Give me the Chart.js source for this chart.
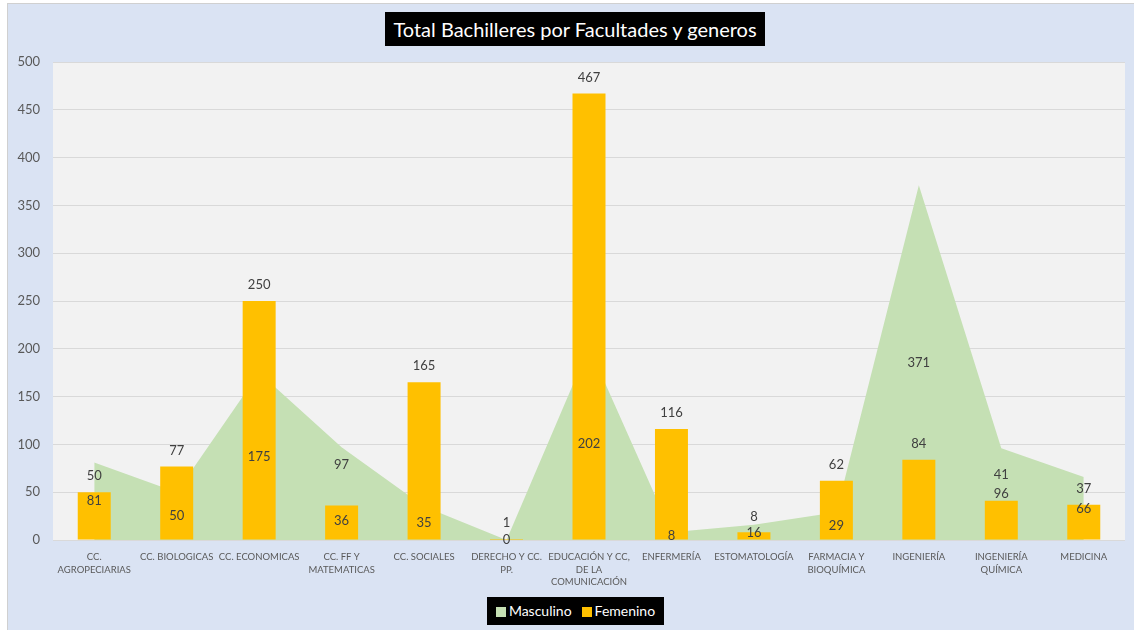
<!DOCTYPE html>
<html lang="es">
<head>
    <meta charset="UTF-8">
    <title>Total Bachilleres por Facultades y generos</title>
    <script src="https://cdn.jsdelivr.net/npm/chart.js"></script>
    <style>
        body {
            margin: 0;
            background: #ffffff;
            font-family: Lato, "Open Sans", sans-serif;
        }
        #frame {
            position: absolute;
            left: 7px;
            top: 3px;
            width: 1127px;
            height: 627px;
            background: #dae3f3;
            border-top: 1px solid #d0d0d0;
            border-left: 1px solid #d0d0d0;
            box-sizing: border-box;
        }
        #wrap {
            position: absolute;
            left: 0;
            top: 0;
            width: 1134px;
            height: 630px;
        }
        .titulo {
            position: absolute;
            left: 385px;
            top: 12px;
            width: 380px;
            height: 34px;
            background: #000;
            color: #fff;
            font-size: 20px;
            line-height: 34px;
            text-align: center;
        }
        .leyenda {
            position: absolute;
            left: 487px;
            top: 597px;
            width: 177px;
            height: 28px;
            background: #000;
            color: #fff;
            font-size: 14px;
            line-height: 28px;
            text-align: center;
        }
        .leyenda span.box {
            display: inline-block;
            width: 10px;
            height: 10px;
            margin-right: 3px;
            vertical-align: -1px;
        }
        .leyenda span.item {
            margin: 0 5px;
        }
    </style>
</head>
<body>
    <div id="frame"></div>
    <div id="wrap">
        <canvas id="chart" width="1134" height="630"></canvas>
    </div>
    <div class="titulo">Total Bachilleres por Facultades y generos</div>
    <div class="leyenda">
        <span class="item"><span class="box" style="background:#c5e0b4"></span>Masculino</span><span class="item"><span class="box" style="background:#ffc000"></span>Femenino</span>
    </div>

    <script>
        const categorias = [
            ['CC.', 'AGROPECIARIAS'], 'CC. BIOLOGICAS', 'CC. ECONOMICAS', ['CC. FF Y', 'MATEMATICAS'],
            'CC. SOCIALES', ['DERECHO Y CC.', 'PP.'], ['EDUCACIÓN Y CC,', 'DE LA', 'COMUNICACIÓN'],
            'ENFERMERÍA', 'ESTOMATOLOGÍA', ['FARMACIA Y', 'BIOQUÍMICA'], 'INGENIERÍA',
            ['INGENIERÍA', 'QUÍMICA'], 'MEDICINA'
        ];
        const masculino = [81, 50, 175, 97, 35, 0, 202, 8, 16, 29, 371, 96, 66];
        const femenino = [50, 77, 250, 36, 165, 1, 467, 116, 8, 62, 84, 41, 37];

        // fondo del area de trazado
        const fondoPlot = {
            id: 'fondoPlot',
            beforeDraw(chart) {
                const a = chart.chartArea;
                const ctx = chart.ctx;
                ctx.save();
                ctx.fillStyle = '#f2f2f2';
                ctx.fillRect(a.left, a.top, a.right - a.left, a.bottom - a.top);
                ctx.restore();
            }
        };

        // etiquetas de datos (con pequeños desplazamientos donde se solapan, como en Excel)
        const desplazar = { 3: { m: -29, f: 31 }, 11: { m: 0, f: -10 } };
        const etiquetas = {
            id: 'etiquetas',
            afterDatasetsDraw(chart) {
                const ctx = chart.ctx;
                const y = chart.scales.y;
                ctx.save();
                ctx.fillStyle = '#404040';
                ctx.font = '13px Lato, "Open Sans", sans-serif';
                ctx.textAlign = 'center';
                ctx.textBaseline = 'middle';
                chart.getDatasetMeta(0).data.forEach((p, i) => {
                    const d = desplazar[i] ? desplazar[i].m : 0;
                    ctx.fillText(masculino[i], p.x, y.getPixelForValue(masculino[i] / 2) + d);
                });
                chart.getDatasetMeta(1).data.forEach((b, i) => {
                    const d = desplazar[i] ? desplazar[i].f : 0;
                    ctx.fillText(femenino[i], b.x, b.y - 16 + d);
                });
                ctx.restore();
            }
        };

        new Chart(document.getElementById('chart'), {
            type: 'bar',
            data: {
                labels: categorias,
                datasets: [
                    {
                        type: 'line',
                        label: 'Masculino',
                        data: masculino,
                        fill: 'origin',
                        backgroundColor: '#c5e0b4',
                        borderWidth: 0,
                        pointRadius: 0,
                        tension: 0,
                        order: 2
                    },
                    {
                        label: 'Femenino',
                        data: femenino,
                        backgroundColor: '#ffc000',
                        categoryPercentage: 1,
                        barPercentage: 0.4,
                        order: 1
                    }
                ]
            },
            options: {
                responsive: false,
                animation: false,
                layout: { padding: { top: 62, right: 9, bottom: 40, left: 0 } },
                plugins: {
                    legend: { display: false },
                    title: { display: false },
                    tooltip: { enabled: false }
                },
                scales: {
                    x: {
                        grid: { display: false },
                        border: { display: false },
                        ticks: {
                            color: '#595959',
                            font: { size: 9.5, family: 'Lato, "Open Sans", sans-serif', lineHeight: 1.3 },
                            maxRotation: 0,
                            autoSkip: false,
                            padding: 3
                        },
                        afterFit(scale) { scale.height = 50; }
                    },
                    y: {
                        min: 0,
                        max: 500,
                        grid: { color: '#d9d9d9', drawTicks: false },
                        border: { display: false },
                        ticks: {
                            stepSize: 50,
                            color: '#595959',
                            font: { size: 13, family: 'Lato, "Open Sans", sans-serif' },
                            padding: 13
                        },
                        afterFit(scale) { scale.width = 53; }
                    }
                }
            },
            plugins: [fondoPlot, etiquetas]
        });
    </script>
</body>
</html>
